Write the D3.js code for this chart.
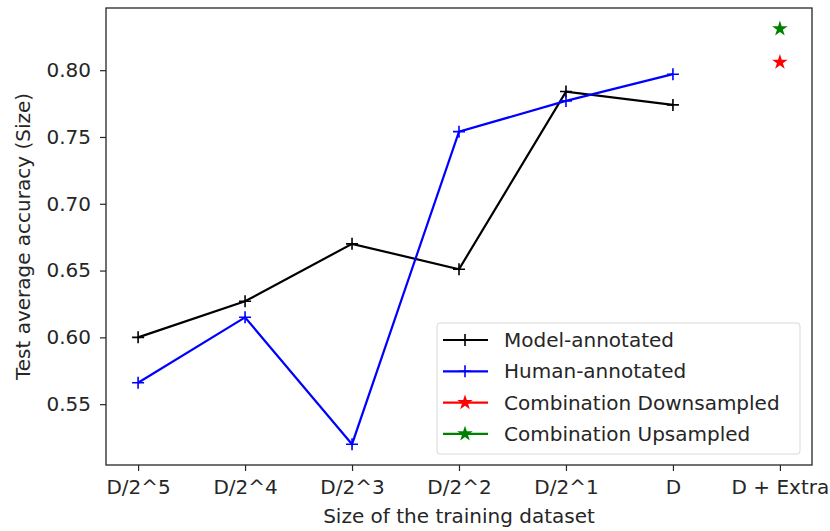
<!DOCTYPE html>
<meta charset="utf-8">
<script src="https://d3js.org/d3.v7.min.js"></script>
<style>
body { margin: 0; background: #fff; }
text { font-family: "DejaVu Sans", sans-serif; fill: #262626; }
.axis path, .axis line { stroke: #262626; }
</style>
<body>
<script>

var categories = ["D/2^5", "D/2^4", "D/2^3", "D/2^2", "D/2^1", "D", "D + Extra"];
var modelAnnotated = [0.600, 0.627, 0.670, 0.651, 0.784, 0.774];
var humanAnnotated = [0.566, 0.615, 0.520, 0.754, 0.777, 0.797];
var comboDown = [0.806];
var comboUp = [0.831];
var yTicks = [0.55, 0.60, 0.65, 0.70, 0.75, 0.80];

var width = 830, height = 531;
var margin = {top: 8, right: 18, bottom: 66, left: 106};
var w = width - margin.left - margin.right,
    h = height - margin.top - margin.bottom;

var series = [
  {name: "Model-annotated", color: "#000000", shape: "plus", pts: modelAnnotated.map(function(v, i) { return [categories[i], v]; })},
  {name: "Human-annotated", color: "#0000ff", shape: "plus", pts: humanAnnotated.map(function(v, i) { return [categories[i], v]; })},
  {name: "Combination Downsampled", color: "#ff0000", shape: "star", pts: [[categories[6], comboDown[0]]]},
  {name: "Combination Upsampled", color: "#008000", shape: "star", pts: [[categories[6], comboUp[0]]]}
];

var x = d3.scalePoint().domain(categories).range([0, w]).padding(0.3);

var all = [].concat(modelAnnotated, humanAnnotated, comboDown, comboUp);
var lo = d3.min(all), hi = d3.max(all), pad = (hi - lo) * 0.05;
var y = d3.scaleLinear().domain([lo - pad, hi + pad]).range([h, 0]);

var svg = d3.select("body").append("svg")
    .attr("width", width)
    .attr("height", height);

var g = svg.append("g").attr("transform", "translate(" + margin.left + "," + margin.top + ")");

// axes
g.append("g").attr("class", "axis")
    .attr("transform", "translate(0," + h + ")")
    .call(d3.axisBottom(x).tickSize(6).tickPadding(9))
    .call(function(s) { s.select(".domain").remove(); })
    .selectAll("text").style("font-size", "20px").style("font-family", "DejaVu Sans");

g.append("g").attr("class", "axis")
    .call(d3.axisLeft(y).tickValues(yTicks).tickFormat(d3.format(".2f")).tickSize(6).tickPadding(9))
    .call(function(s) { s.select(".domain").remove(); })
    .selectAll("text").style("font-size", "20px").style("font-family", "DejaVu Sans");

g.selectAll(".axis line").attr("stroke-width", 1.2);

// frame
g.append("rect")
    .attr("width", w).attr("height", h)
    .attr("fill", "none").attr("stroke", "#262626").attr("stroke-width", 1.3);

var line = d3.line().x(function(d) { return x(d[0]); }).y(function(d) { return y(d[1]); });
var star = d3.symbol().type(d3.symbolStar).size(75);

function drawMarker(sel, shape, color) {
  if (shape === "plus") {
    sel.append("path")
      .attr("d", "M-6,0H6M0,-6V6")
      .attr("stroke", color).attr("stroke-width", 1.6).attr("fill", "none");
  } else {
    sel.append("path").attr("d", star).attr("fill", color);
  }
}

series.forEach(function(s) {
  g.append("path")
    .attr("d", line(s.pts))
    .attr("fill", "none")
    .attr("stroke", s.color)
    .attr("stroke-width", 2.2);
  s.pts.forEach(function(p) {
    var m = g.append("g").attr("transform", "translate(" + x(p[0]) + "," + y(p[1]) + ")");
    drawMarker(m, s.shape, s.color);
  });
});

// legend
var lg = svg.append("g").attr("transform", "translate(437,323)");
lg.append("rect")
    .attr("width", 363).attr("height", 131).attr("rx", 3)
    .attr("fill", "#fff").attr("fill-opacity", 0.8)
    .attr("stroke", "#d9d9d9");

series.forEach(function(s, i) {
  var row = lg.append("g").attr("transform", "translate(0," + (17 + i * 31.3) + ")");
  row.append("line").attr("x1", 6).attr("x2", 51)
    .attr("stroke", s.color).attr("stroke-width", 2.2);
  var m = row.append("g").attr("transform", "translate(28,0)");
  drawMarker(m, s.shape, s.color);
  row.append("text").attr("x", 67).attr("dy", "0.35em")
    .style("font-size", "20px").text(s.name);
});

// axis titles
svg.append("text")
    .attr("x", margin.left + w / 2).attr("y", 523)
    .attr("text-anchor", "middle").style("font-size", "20px")
    .text("Size of the training dataset");

svg.append("text")
    .attr("transform", "translate(30," + (margin.top + h / 2) + ") rotate(-90)")
    .attr("text-anchor", "middle").style("font-size", "20px")
    .text("Test average accuracy (Size)");

</script>
</body>
